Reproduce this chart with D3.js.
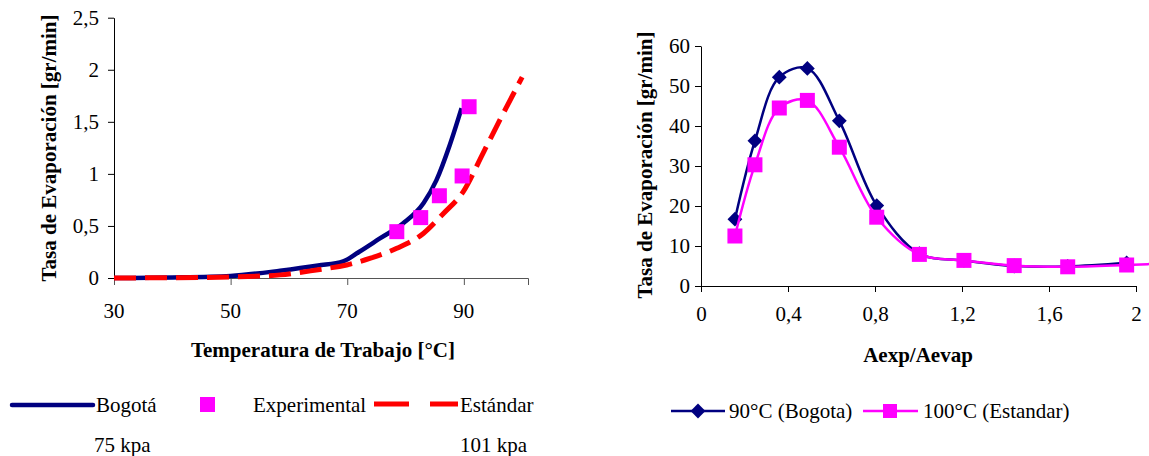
<!DOCTYPE html>
<html>
<head>
<meta charset="utf-8">
<script src="https://cdn.jsdelivr.net/npm/d3@7"></script>
<style>
	body { margin: 0; background: #fff; }
	text { font-family: "Liberation Serif", "Times New Roman", serif; fill: #000; }
</style>
</head>
<body>
<svg width="1149" height="456"></svg>
<script>

// left chart: temperature vs evaporation rate
var tempBogota = [30, 40, 50, 58.5, 65, 69.3, 72, 75.6, 79.6, 83.1, 85.3, 87.6, 89.6];
var rateBogota = [0, 0.005, 0.02, 0.07, 0.12, 0.16, 0.25, 0.38, 0.525, 0.72, 0.94, 1.28, 1.63];

var tempEstandar = [30, 40, 50, 58.5, 65, 69.9, 74, 78.5, 83.1, 86.5, 89.9, 93.3, 96.2, 100];
var rateEstandar = [0, 0.003, 0.01, 0.03, 0.08, 0.125, 0.19, 0.285, 0.43, 0.62, 0.83, 1.2, 1.52, 1.93];

var tempExp = [78.5, 82.6, 85.8, 89.7, 90.9];
var rateExp = [0.445, 0.58, 0.79, 0.98, 1.645];

var leftXTicks = [30, 50, 70, 90];
var leftYTicks = [0, 0.5, 1, 1.5, 2, 2.5];

// right chart: area ratio vs evaporation rate
var ratio = [0.156, 0.248, 0.36, 0.489, 0.636, 0.808, 1.004, 1.209, 1.44, 1.686, 1.957];
var rate90 = [16.7, 36.3, 52.2, 54.4, 41.3, 20.1, 8.1, 6.4, 5.0, 4.9, 5.8];
var ratio100 = [0.156, 0.248, 0.36, 0.489, 0.636, 0.808, 1.004, 1.209, 1.44, 1.686, 1.957, 2.2];
var rate100 = [12.5, 30.3, 44.5, 46.4, 34.7, 17.2, 7.9, 6.4, 5.1, 4.8, 5.25, 5.8];

var rightXTicks = [0, 0.4, 0.8, 1.2, 1.6, 2];
var rightYTicks = [0, 10, 20, 30, 40, 50, 60];

var svg = d3.select('svg');
var comma = function (d) { return String(d).replace('.', ','); };
var fs = '21px';

/*
	Left chart
*/
var x1 = d3.scaleLinear().domain([30, 101]).range([114, 528]);
var y1 = d3.scaleLinear().domain([0, 2.5]).range([278, 17.7]);

var left = svg.append('g');

left.append('g').attr('transform', 'translate(0,278)')
	.call(d3.axisBottom(x1).tickValues(leftXTicks).tickSize(7).tickFormat(''))
	.call(function (g) { g.selectAll('line, path').attr('stroke', '#555'); });

left.append('g').attr('transform', 'translate(114,0)')
	.call(d3.axisLeft(y1).tickValues(leftYTicks).tickSize(6).tickFormat(comma).tickSizeOuter(0))
	.call(function (g) {
		g.selectAll('line, path').attr('stroke', '#000');
		g.selectAll('text').attr('x', -15).style('font-size', fs).style('font-family', 'Liberation Serif');
	});

left.selectAll('.xl').data(leftXTicks).enter().append('text')
	.attr('x', function (d) { return x1(d); }).attr('y', 318)
	.attr('text-anchor', 'middle').style('font-size', fs).text(function (d) { return d; });

var line1 = d3.line().x(function (d) { return x1(d[0]); }).y(function (d) { return y1(d[1]); }).curve(d3.curveMonotoneX);

left.append('path').datum(d3.zip(tempBogota, rateBogota)).attr('d', line1)
	.attr('fill', 'none').attr('stroke', '#000080').attr('stroke-width', 4.5);

left.append('path').datum(d3.zip(tempEstandar, rateEstandar)).attr('d', line1)
	.attr('fill', 'none').attr('stroke', '#ff0000').attr('stroke-width', 5)
	.attr('stroke-dasharray', '22,9');

left.selectAll('.exp').data(d3.zip(tempExp, rateExp)).enter().append('rect')
	.attr('x', function (d) { return x1(d[0]) - 7.5; })
	.attr('y', function (d) { return y1(d[1]) - 7.5; })
	.attr('width', 15).attr('height', 15).attr('fill', '#ff00ff');

left.append('text').attr('x', 323).attr('y', 357).attr('text-anchor', 'middle')
	.style('font-size', fs).style('font-weight', 'bold').text('Temperatura de Trabajo [°C]');

left.append('text').attr('transform', 'translate(56,148) rotate(-90)').attr('text-anchor', 'middle')
	.style('font-size', fs).style('font-weight', 'bold').text('Tasa de Evaporación [gr/min]');

// legend
left.append('line').attr('x1', 12).attr('x2', 93).attr('y1', 405).attr('y2', 405)
	.attr('stroke', '#000080').attr('stroke-width', 4.5).attr('stroke-linecap', 'round');
left.append('text').attr('x', 96).attr('y', 412).style('font-size', fs).text('Bogotá');
left.append('rect').attr('x', 200).attr('y', 397).attr('width', 15).attr('height', 15).attr('fill', '#ff00ff');
left.append('text').attr('x', 253).attr('y', 412).style('font-size', fs).text('Experimental');
left.append('line').attr('x1', 374).attr('x2', 458).attr('y1', 404).attr('y2', 404)
	.attr('stroke', '#ff0000').attr('stroke-width', 5).attr('stroke-dasharray', '35,21');
left.append('text').attr('x', 460).attr('y', 412).style('font-size', fs).text('Estándar');
left.append('text').attr('x', 94).attr('y', 452).style('font-size', fs).text('75 kpa');
left.append('text').attr('x', 460).attr('y', 452).style('font-size', fs).text('101 kpa');

/*
	Right chart
*/
var x2 = d3.scaleLinear().domain([0, 2]).range([701, 1136]);
var y2 = d3.scaleLinear().domain([0, 60]).range([286, 46]);

var right = svg.append('g');

right.append('g').attr('transform', 'translate(0,286)')
	.call(d3.axisBottom(x2).tickValues(rightXTicks).tickSize(6).tickFormat(comma).tickSizeOuter(0))
	.call(function (g) {
		g.selectAll('line, path').attr('stroke', '#000');
		g.selectAll('text').attr('y', 20).style('font-size', fs).style('font-family', 'Liberation Serif');
	});

right.append('g').attr('transform', 'translate(701,0)')
	.call(d3.axisLeft(y2).tickValues(rightYTicks).tickSize(6).tickFormat(comma).tickSizeOuter(0))
	.call(function (g) {
		g.selectAll('line, path').attr('stroke', '#000');
		g.selectAll('text').attr('x', -11).style('font-size', fs).style('font-family', 'Liberation Serif');
	});

var line2 = d3.line().x(function (d) { return x2(d[0]); }).y(function (d) { return y2(d[1]); }).curve(d3.curveCatmullRom.alpha(0.5));

right.append('path').datum(d3.zip(ratio, rate90)).attr('d', line2)
	.attr('fill', 'none').attr('stroke', '#000080').attr('stroke-width', 2.5);

right.selectAll('.dia').data(d3.zip(ratio, rate90)).enter().append('path')
	.attr('d', d3.symbol().type(d3.symbolSquare).size(110))
	.attr('transform', function (d) { return 'translate(' + x2(d[0]) + ',' + y2(d[1]) + ') rotate(45)'; })
	.attr('fill', '#000080');

right.append('path').datum(d3.zip(ratio100, rate100)).attr('d', line2)
	.attr('fill', 'none').attr('stroke', '#ff00ff').attr('stroke-width', 2.5);

right.selectAll('.sq').data(d3.zip(ratio, rate100.slice(0, ratio.length))).enter().append('rect')
	.attr('x', function (d) { return x2(d[0]) - 7.5; })
	.attr('y', function (d) { return y2(d[1]) - 7.5; })
	.attr('width', 15).attr('height', 15).attr('fill', '#ff00ff');

right.append('text').attr('x', 918).attr('y', 362).attr('text-anchor', 'middle')
	.style('font-size', fs).style('font-weight', 'bold').text('Aexp/Aevap');

right.append('text').attr('transform', 'translate(652,165) rotate(-90)').attr('text-anchor', 'middle')
	.style('font-size', fs).style('font-weight', 'bold').text('Tasa de Evaporación [gr/min]');

// legend
right.append('line').attr('x1', 671).attr('x2', 725).attr('y1', 411).attr('y2', 411)
	.attr('stroke', '#000080').attr('stroke-width', 2.5);
right.append('path').attr('d', d3.symbol().type(d3.symbolSquare).size(110))
	.attr('transform', 'translate(698,411) rotate(45)').attr('fill', '#000080');
right.append('text').attr('x', 729).attr('y', 418).style('font-size', fs).text('90°C (Bogota)');
right.append('line').attr('x1', 863).attr('x2', 918).attr('y1', 411).attr('y2', 411)
	.attr('stroke', '#ff00ff').attr('stroke-width', 2.5);
right.append('rect').attr('x', 883).attr('y', 404).attr('width', 14).attr('height', 14).attr('fill', '#ff00ff');
right.append('text').attr('x', 923).attr('y', 418).style('font-size', fs).text('100°C (Estandar)');

</script>
</body>
</html>
